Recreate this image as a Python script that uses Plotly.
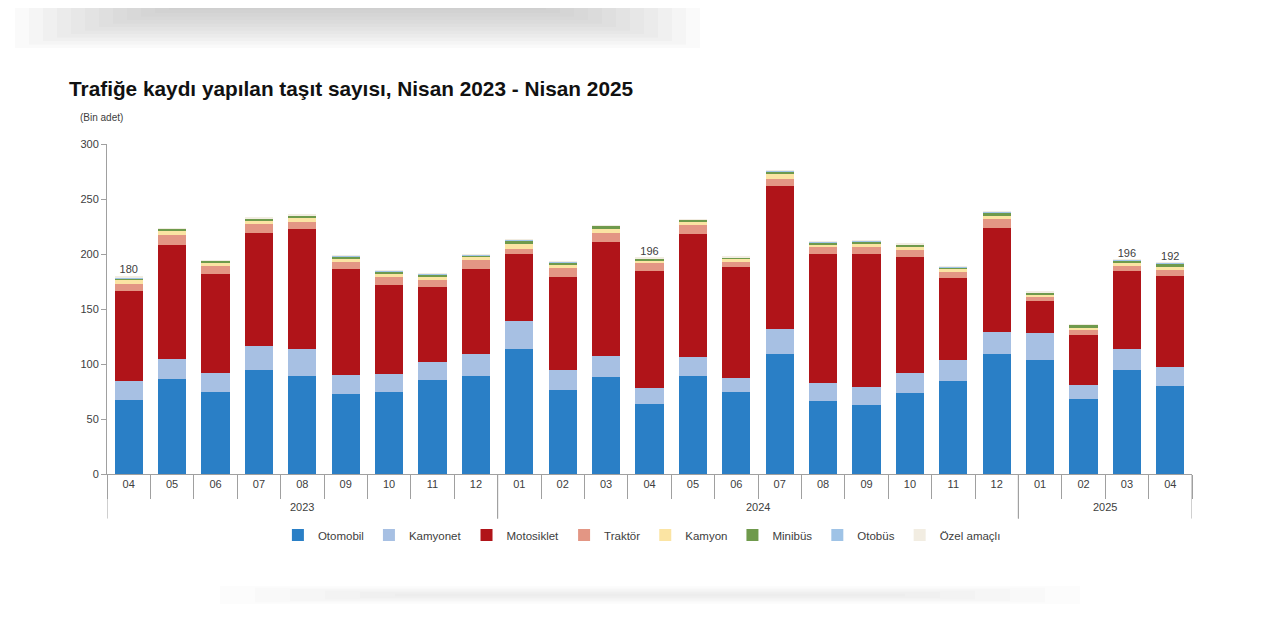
import plotly.graph_objects as go

years = ["2023"] * 9 + ["2024"] * 12 + ["2025"] * 4
months = ["04", "05", "06", "07", "08", "09", "10", "11", "12",
          "01", "02", "03", "04", "05", "06", "07", "08", "09", "10", "11", "12",
          "01", "02", "03", "04"]

otomobil   = [67, 86.5, 75, 95, 89, 73, 75, 85.5, 89, 113.5, 76.5, 88, 64, 89, 75, 109, 66, 62.5, 74, 84.5, 109, 104, 68.5, 95, 80]
kamyonet   = [17.5, 18.5, 16.5, 21.5, 24.5, 17, 16, 16.5, 20, 26, 18.5, 19.5, 14, 17, 12.5, 22.5, 17, 16.5, 17.5, 19.5, 20.5, 24.5, 12.5, 18.5, 17]
motosiklet = [81.5, 103, 90.5, 102.5, 109.5, 96, 81, 68, 77, 60.5, 84, 103.5, 107, 112, 100.5, 130.5, 117, 121, 106, 74.5, 94.5, 28.5, 45.5, 71, 83]
traktor    = [7, 9, 7, 8, 6, 7, 7, 6, 8.5, 4.5, 8, 8, 6.5, 8, 5, 6, 6, 6, 6, 5.5, 8, 4, 4, 4.5, 5.5]
kamyon     = [3.5, 4, 3, 3, 4, 2.5, 3, 3, 2.5, 4.5, 3, 3.5, 2.5, 3, 2.5, 4.5, 2.5, 3, 2.5, 2, 3, 2.5, 2, 2.5, 3]
minibus    = [1, 2, 2, 2, 2, 2.5, 2.5, 2.5, 2, 3.5, 2.5, 3, 2, 2, 1, 2.5, 2, 2.5, 2.5, 2, 3, 1.5, 3, 3, 3]
otobus     = [0.3, 0.3, 0.3, 0.3, 0.3, 0.3, 0.5, 0.5, 0.3, 0.5, 0.5, 0.5, 0.3, 0.5, 0.3, 0.5, 0.5, 0.5, 0.5, 0.5, 0.5, 0.3, 0.5, 0.5, 0.5]
ozel       = [2, 0.2, 0.2, 1, 0.2, 0.2, 0.2, 0.2, 0.2, 0.2, 0.2, 0.2, 0.2, 0.2, 1.5, 0.2, 0.2, 0.2, 0.2, 0.2, 0.2, 0.2, 0.2, 0.2, 0.2]

label_idx = [0, 12, 23, 24]
label_txt = ["180", "196", "196", "192"]

series = [
    ("Otomobil", otomobil, "#2a7fc6"),
    ("Kamyonet", kamyonet, "#a7c0e3"),
    ("Motosiklet", motosiklet, "#b01419"),
    ("Traktör", traktor, "#e39684"),
    ("Kamyon", kamyon, "#fbe4a3"),
    ("Minibüs", minibus, "#6f9a4c"),
    ("Otobüs", otobus, "#9fc3e6"),
    ("Özel amaçlı", ozel, "#f2ede2"),
]

FONT = "Liberation Sans, Arial, sans-serif"
AX = "#a0a0a0"

x_ids = [f"{y}-{m}" for y, m in zip(years, months)]
fig = go.Figure()
for name, vals, col in series:
    fig.add_trace(go.Bar(x=x_ids, y=vals, name=name, marker=dict(color=col, line=dict(width=0))))

totals = [sum(s[1][i] for s in series) for i in range(len(months))]
fig.add_trace(go.Scatter(
    x=[x_ids[i] for i in label_idx], y=[totals[i] for i in label_idx],
    text=label_txt, mode="text", textposition="top center",
    textfont=dict(size=11, color="#404040", family=FONT),
    showlegend=False, cliponaxis=False, hoverinfo="skip"))

# year groups: dividers and labels
groups = []
for i, y in enumerate(years):
    if not groups or groups[-1][0] != y:
        groups.append([y, i, i])
    else:
        groups[-1][2] = i

shapes = []
annotations = []
for y, a, b in groups:
    for xb in (a - 0.5, b + 0.5):
        shapes.append(dict(type="line", xref="x", yref="paper", x0=xb, x1=xb, y0=0, y1=-0.135,
                           line=dict(color=AX, width=1)))
    annotations.append(dict(text=y, xref="x", yref="paper", x=(a + b) / 2, y=-0.1,
                            xanchor="center", yanchor="middle", showarrow=False,
                            font=dict(size=11, color="#404040", family=FONT)))

# soft photo shadows at top and bottom of the picture (page pixels -> paper coords)
def px_rect(x0, y0, x1, y1, color, op):
    return dict(type="rect", xref="paper", yref="paper", layer="below",
                x0=(x0 - 107) / 1085, x1=(x1 - 107) / 1085,
                y0=(474 - y1) / 330, y1=(474 - y0) / 330,
                fillcolor=color, opacity=op, line=dict(width=0))

for k in range(12):
    shapes.append(px_rect(15 + 14 * k, -10, 700 - 14 * k, 48 - 3.5 * k, "#a8a8a8", 0.055))
for k in range(6):
    shapes.append(px_rect(220 + 35 * k, 586 + 1.5 * k, 1080 - 35 * k, 604 - 1.5 * k, "#c8c8c8", 0.05))

annotations += [
    dict(text="<b>Trafiğe kaydı yapılan taşıt sayısı, Nisan 2023 - Nisan 2025</b>",
         xref="paper", yref="paper", x=-0.037, y=1.167, xanchor="left", yanchor="middle",
         showarrow=False, font=dict(size=20.8, color="#111111", family=FONT)),
    dict(text="(Bin adet)", xref="paper", yref="paper", x=-0.0267, y=1.079,
         xanchor="left", yanchor="middle", showarrow=False,
         font=dict(size=10, color="#404040", family=FONT)),
]

fig.update_layout(
    template="none",
    width=1280, height=640,
    barmode="stack", bargap=0.35,
    paper_bgcolor="white", plot_bgcolor="white",
    margin=dict(l=99, r=96, t=136, b=174, autoexpand=False),
    font=dict(family=FONT, size=11, color="#404040"),
    showlegend=True,
    legend=dict(orientation="h", x=0.493, y=-0.185, xanchor="center", yanchor="middle",
                font=dict(size=11.5, color="#404040", family=FONT), traceorder="normal",
                itemclick=False, bgcolor="rgba(0,0,0,0)"),
    xaxis=dict(type="category", tickmode="array", tickvals=x_ids, ticktext=months,
               tickson="boundaries", ticks="outside", ticklen=24, tickcolor=AX,
               showline=True, linecolor=AX, linewidth=1, showgrid=False, automargin=False,
               tickfont=dict(size=11, color="#404040", family=FONT),
               range=[-0.5, len(x_ids) - 0.5]),
    yaxis=dict(range=[0, 300], tickvals=[0, 50, 100, 150, 200, 250, 300], showgrid=False,
               showline=True, linecolor=AX, ticks="outside", ticklen=5, automargin=False,
               tickcolor=AX, tickfont=dict(size=11, color="#404040", family=FONT), zeroline=False),
    shapes=shapes,
    annotations=annotations,
)

fig.write_html("out.html")
